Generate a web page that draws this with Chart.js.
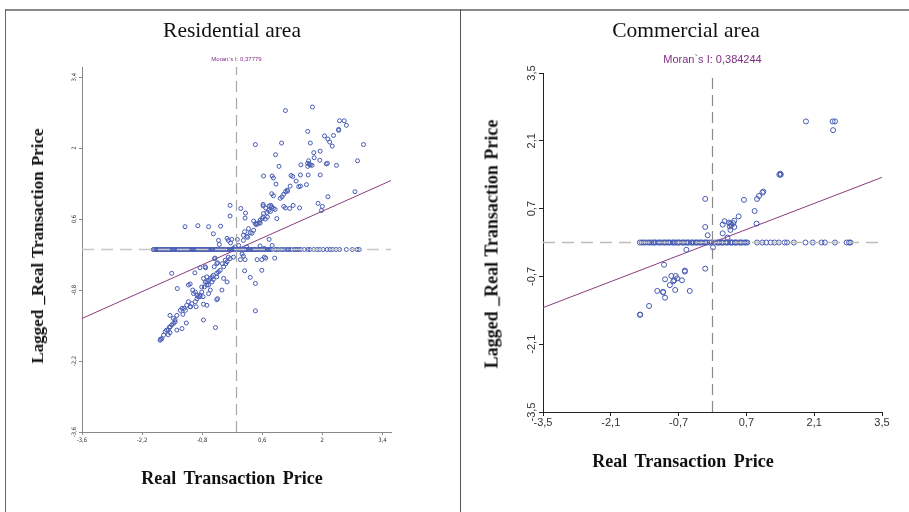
<!DOCTYPE html>
<html>
<head>
<meta charset="utf-8">
<script src="https://cdn.jsdelivr.net/npm/chart.js@4.4.1/dist/chart.umd.min.js"></script>
<style>
  body { margin: 0; background: #fff; width: 909px; height: 512px; overflow: hidden; position: relative; font-family: "Liberation Serif", serif; }
  canvas { position: absolute; top: 0; }
  .line { position: absolute; background: #777; }
  .title { position: absolute; text-align: center; font-size: 21.5px; color: #111; }
  .xlab { position: absolute; text-align: center; font-size: 18px; font-weight: bold; color: #111; word-spacing: 3px; }
  .ylab { position: absolute; font-size: 17px; font-weight: bold; color: #111; white-space: nowrap; word-spacing: 1px;
          transform: translate(-50%, -50%) rotate(-90deg); }
</style>
</head>
<body>
<div class="line" style="left:5px;top:9px;width:904px;height:2px;background:#8a8a8a"></div>
<div class="line" style="left:5px;top:9px;width:1px;height:503px;background:#666"></div>
<div class="line" style="left:460px;top:9px;width:1px;height:503px;background:#555"></div>

<canvas id="res" width="460" height="512" style="left:0"></canvas>
<canvas id="com" width="449" height="512" style="left:460px"></canvas>

<div class="title" style="left:0;width:464px;top:18px">Residential area</div>
<div class="title" style="left:460px;width:452px;top:18px">Commercial area</div>
<div class="xlab" style="left:0;width:464px;top:468px">Real Transaction Price</div>
<div class="xlab" style="left:460px;width:446px;top:451px">Real Transaction Price</div>
<div class="ylab" style="left:38px;top:246px">Lagged _Real Transaction Price</div>
<div class="ylab" style="left:492px;top:244px;font-size:18px">Lagged _Real Transaction Price</div>

<script>
// Residential area
const resMoran = 0.37779;
const resTicks = [-3.6, -2.2, -0.8, 0.6, 2, 3.4];
const resTickLabels = ['-3,6', '-2,2', '-0,8', '0,6', '2', '3,4'];
const resPoints = [
  [1.14,2.74],[1.77,2.81],[2.40,2.54],[2.51,2.54],[2.56,2.45],[2.38,2.37],[2.38,2.35],[1.66,2.33],[2.26,2.25],
  [2.05,2.24],[2.13,2.18],[2.17,2.12],[2.23,2.04],[0.44,2.07],[1.05,2.10],[1.72,2.10],[2.96,2.07],[0.91,1.87],
  [1.80,1.91],[1.95,1.94],[1.81,1.81],[1.94,1.76],[2.82,1.75],[1.68,1.75],[1.66,1.70],[1.72,1.67],[1.76,1.66],
  [1.66,1.64],[1.50,1.67],[1.70,1.68],[2.09,1.69],[2.12,1.70],[2.33,1.66],[0.99,1.64],[0.63,1.45],[0.83,1.45],
  [0.86,1.41],[1.27,1.46],[1.31,1.44],[1.49,1.47],[1.67,1.47],[1.39,1.35],[0.92,1.29],[1.25,1.25],[1.45,1.24],
  [1.49,1.25],[1.63,1.28],[1.18,1.17],[1.14,1.14],[1.10,1.09],[1.19,1.15],[1.06,1.04],[1.02,1.01],[0.82,1.10],
  [0.86,1.06],[1.95,1.47],[1.90,0.91],[2.00,0.85],[1.98,0.77],[2.13,1.04],[2.76,1.14],
  [0.62,0.89],[0.62,0.86],[0.76,0.86],[0.80,0.87],[0.82,0.84],[0.86,0.81],[0.90,0.79],[0.75,0.77],[0.79,0.75],
  [0.71,0.73],[0.68,0.82],[1.10,0.85],[1.14,0.82],[1.24,0.81],[1.32,0.87],[1.47,0.82],[-0.15,0.87],[-0.15,0.66],
  [0.10,0.81],[0.21,0.72],[0.20,0.62],[0.63,0.71],[0.62,0.64],[0.67,0.60],[0.72,0.64],[0.94,0.61],[0.40,0.56],
  [0.53,0.53],[0.46,0.49],[0.44,0.51],[0.55,0.52],[0.28,0.41],[0.32,0.33],[0.19,0.35],[0.24,0.26],[0.36,0.32],
  [0.49,0.51],[0.55,0.58],[0.60,0.61],[0.40,0.38],[0.26,0.24],
  [-1.20,0.45],[-0.90,0.47],[-0.65,0.45],[-0.37,0.46],[-0.54,0.31],[-0.42,0.18],[-0.40,0.10],[-0.22,0.22],
  [-0.19,0.18],[-0.14,0.13],[-0.11,0.20],[0.02,0.20],[0.16,0.28],[0.05,0.08],[-0.03,0.05],[-0.08,0.02],
  [0.24,0.05],[0.16,0.18],[0.76,0.20],[0.83,0.08],[0.65,0.02],[0.55,0.07],
  [0.13,-0.09],[0.16,-0.13],[0.09,-0.20],[0.20,-0.20],[0.48,-0.20],[0.59,-0.20],[0.89,-0.17],[0.65,-0.15],
  [0.19,-0.42],[0.59,-0.41],[0.32,-0.55],[0.44,-0.67],[0.44,-1.21],[0.68,-0.17],
  [-0.07,-0.15],[-0.15,-0.18],[-0.22,-0.24],[-0.25,-0.28],[-0.30,-0.34],[-0.38,-0.41],[-0.46,-0.28],[-0.51,-0.18],
  [-0.52,-0.34],[-0.42,-0.44],[-0.46,-0.47],[-0.54,-0.51],[-0.57,-0.54],[-0.61,-0.57],[-0.65,-0.61],[-0.69,-0.64],
  [-0.54,-0.59],[-0.57,-0.64],[-0.69,-0.70],[-0.75,-0.74],[-0.81,-0.84],[-0.85,-0.90],[-0.89,-0.93],[-0.92,-0.97],
  [-0.96,-1.03],[-1.04,-1.07],[-1.12,-1.03],[-1.16,-1.10],[-1.22,-1.16],[-1.31,-1.20],[-1.39,-1.30],[-1.43,-1.39],
  [-1.47,-1.46],[-1.51,-1.49],[-1.55,-1.53],[-1.59,-1.59],[-1.66,-1.62],[-1.74,-1.76],[-1.78,-1.79],[-1.55,-1.30],
  [-1.51,-0.47],[-1.38,-0.77],[-1.12,-0.70],[-1.08,-0.68],[-0.97,-0.46],[-0.85,-0.36],[-0.73,-0.34],[-0.34,-0.80],
  [-0.46,-0.99],[-0.77,-1.39],[-0.49,-1.54],[-1.27,-1.56],[-1.17,-1.45],[-1.08,-1.13],[-0.94,-1.13],[-0.77,-1.08],
  [-0.69,-1.10],[-0.46,-0.54],[-0.30,-0.57],[-0.22,-0.64],[-0.69,-0.54],[-1.02,-0.80],[-0.92,-0.90],[-0.61,-0.80],
  [-0.65,-0.87],[-0.50,-0.17],[-0.44,-0.26],[-0.33,-0.28],[-0.26,-0.21],[-0.19,-0.15],[-0.72,-0.36],[-0.77,-0.57],
  [-0.73,-0.64],[-0.65,-0.70],[-0.81,-0.74],[-0.96,-0.84],[-1.00,-0.87],[-0.85,-0.93],[-0.78,-0.93],[-1.07,-1.13],
  [-1.19,-1.20],[-1.27,-1.16],[-1.25,-1.28],[-1.47,-1.36],[-1.43,-1.43],[-1.56,-1.53],[-1.63,-1.59],[-1.70,-1.69],
  [-1.77,-1.77],[-1.59,-1.68],[-1.55,-1.64],[-1.39,-1.59],[-0.44,-0.97]
];
// observations whose lagged value is 0
const resZeroX = [
  -1.94,-1.91,-1.88,-1.85,-1.83,-1.79,-1.76,-1.73,-1.71,-1.67,-1.64,-1.61,-1.58,-1.55,-1.53,-1.49,-1.46,-1.43,
  -1.40,-1.37,-1.35,-1.31,-1.28,-1.25,-1.22,-1.19,-1.17,-1.13,-1.10,-1.07,-1.04,-1.01,-0.99,-0.95,-0.92,-0.89,
  -0.86,-0.83,-0.81,-0.77,-0.74,-0.71,-0.68,-0.65,-0.63,-0.59,-0.56,-0.53,-0.50,-0.47,-0.45,-0.41,-0.38,-0.35,
  -0.32,-0.29,-0.27,-0.23,-0.20,-0.17,-0.14,-0.11,-0.09,-0.05,-0.02,0.01,0.04,0.07,0.09,0.13,0.16,0.19,
  0.22,0.25,0.27,0.31,0.34,0.37,0.40,0.43,0.45,0.49,0.52,0.55,0.58,0.61,0.63,0.67,0.70,0.73,0.76,0.79,
  0.82,0.90,0.93,0.97,1.03,1.07,1.12,1.18,1.22,1.27,1.34,1.37,1.41,1.46,1.50,
  1.58,1.66,1.71,1.80,1.88,1.94,2.02,2.11,2.18,2.24,2.32,2.40,2.56,2.70,2.81,2.86
];

// Commercial area
const comMoran = 0.384244;
const comTicks = [-3.5, -2.1, -0.7, 0.7, 2.1, 3.5];
const comTickLabels = ['-3,5', '-2,1', '-0,7', '0,7', '2,1', '3,5'];
const comPoints = [
  [1.93,2.50],[2.48,2.50],[2.53,2.50],[2.49,2.32],[1.38,1.40],[1.41,1.40],[1.40,1.42],[1.03,1.03],[1.05,1.05],
  [0.96,0.96],[0.92,0.90],[0.65,0.88],[-0.15,0.90],[0.87,0.65],[0.91,0.39],[0.54,0.54],[0.45,0.45],[0.43,0.40],
  [0.37,0.39],[0.34,0.41],[0.39,0.36],[0.36,0.33],[0.25,0.44],[0.21,0.37],[0.45,0.32],[0.37,0.26],[0.21,0.19],
  [0.31,0.10],[-0.15,0.32],[-0.10,0.15],[0.01,-0.10],[-0.54,-0.15],[-1.00,-0.46],[-0.15,-0.54],[-0.57,-0.58],
  [-0.57,-0.60],[-0.85,-0.69],[-0.76,-0.69],[-0.73,-0.74],[-0.79,-0.78],[-0.81,-0.80],[-0.63,-0.78],[-0.98,-0.76],
  [-0.88,-0.88],[-0.77,-0.98],[-0.47,-1.00],[-1.14,-1.00],[-1.02,-1.02],[-1.02,-1.03],[-0.98,-1.14],[-1.31,-1.31],
  [-1.49,-1.49],[-1.50,-1.49]
];
const comZeroX = [
  -1.50,-1.46,-1.42,-1.38,-1.33,-1.30,-1.26,-1.22,-1.20,-1.17,-1.12,-1.09,-1.06,-1.01,-0.99,-0.96,-0.92,-0.90,
  -0.87,-0.82,-0.80,-0.77,-0.73,-0.70,-0.68,-0.63,-0.61,-0.58,-0.54,-0.51,-0.49,-0.44,-0.42,-0.39,-0.35,-0.33,
  -0.30,-0.26,-0.24,-0.21,-0.16,-0.14,-0.11,-0.06,-0.02,0.05,0.10,0.12,0.14,0.18,0.20,0.22,0.27,0.30,0.32,
  0.37,0.39,0.41,0.46,0.48,0.51,0.56,0.58,0.61,0.66,0.69,0.72,0.92,1.03,1.11,1.20,1.28,1.37,1.49,1.54,1.68,1.92,
  2.07,2.25,2.32,2.53,2.77,2.82,2.85
];

const pointColor = '#4459b2';
const regColor = '#8c3b7c';

const tickText = {
  id: 'tickText',
  afterDraw(chart, args, o) {
    const { ctx, chartArea, scales: { x, y } } = chart;
    ctx.save();
    ctx.fillStyle = o.color;
    ctx.font = o.font;
    ctx.textAlign = 'center';
    ctx.textBaseline = 'middle';
    o.values.forEach((v, i) => {
      ctx.fillText(o.labels[i], x.getPixelForValue(v), chartArea.bottom + o.gap);
    });
    o.values.forEach((v, i) => {
      ctx.save();
      ctx.translate(chartArea.left - o.gap, y.getPixelForValue(v));
      ctx.rotate(-Math.PI / 2);
      ctx.fillText(o.labels[i], 0, 0);
      ctx.restore();
    });
    ctx.fillStyle = o.noteColor;
    ctx.font = o.noteFont;
    ctx.fillText(o.note, x.getPixelForValue(0), o.noteY);
    ctx.restore();
  }
};

function makeChart(id, cfg) {
  const lim = cfg.lim;
  const axis = (ticks) => ({
    type: 'linear', min: -lim, max: lim,
    afterBuildTicks: s => { s.ticks = ticks.map(v => ({ value: v })); },
    ticks: { display: false },
    grid: { display: true, drawOnChartArea: false, drawTicks: true, tickLength: cfg.tickLen, color: cfg.axisColor },
    border: { display: true, color: cfg.axisColor, width: 1 }
  });
  new Chart(document.getElementById(id), {
    type: 'scatter',
    data: {
      datasets: [
        { data: [{ x: -lim, y: 0 }, { x: lim, y: 0 }], showLine: true, pointRadius: 0,
          borderColor: cfg.hDash, borderWidth: 1.5, borderDash: [12, 7] },
        { data: [{ x: 0, y: -lim }, { x: 0, y: lim }], showLine: true, pointRadius: 0,
          borderColor: cfg.vDash, borderWidth: 1.2, borderDash: [11, 6] },
        { data: cfg.zeroX.map(v => ({ x: v, y: 0 })), pointRadius: cfg.r, pointBorderWidth: 1,
          pointBorderColor: pointColor, pointBackgroundColor: 'rgba(255,255,255,0)' },
        { data: cfg.points.map(p => ({ x: p[0], y: p[1] })), pointRadius: cfg.r, pointBorderWidth: 1,
          pointBorderColor: pointColor, pointBackgroundColor: 'rgba(255,255,255,0)' },
        { data: [{ x: -lim, y: -lim * cfg.moran }, { x: lim, y: lim * cfg.moran }], showLine: true, pointRadius: 0,
          borderColor: regColor, borderWidth: 1 }
      ]
    },
    options: {
      responsive: false, animation: false, devicePixelRatio: 1,
      layout: { padding: cfg.padding },
      scales: { x: axis(cfg.ticks), y: axis(cfg.ticks) },
      plugins: {
        legend: { display: false }, tooltip: { enabled: false },
        tickText: {
          values: cfg.ticks, labels: cfg.labels, font: cfg.tickFont, color: '#333', gap: cfg.gap,
          note: "Moran`s I: " + String(cfg.moran).replace('.', ','), noteFont: cfg.noteFont,
          noteColor: '#7d2e84', noteY: cfg.noteY
        }
      }
    },
    plugins: [tickText]
  });
}

makeChart('res', {
  lim: 3.6, ticks: resTicks, labels: resTickLabels, points: resPoints, zeroX: resZeroX, moran: resMoran,
  padding: { left: 79, top: 67, right: 69, bottom: 77 }, tickLen: 3, axisColor: '#888',
  hDash: '#c8c8c8', vDash: '#a8a8a8', r: 2, gap: 8,
  tickFont: '6px "Liberation Sans Narrow", "DejaVu Sans Condensed", "Liberation Sans", sans-serif',
  noteFont: '6px "Liberation Sans", sans-serif', noteY: 59
});

makeChart('com', {
  lim: 3.5, ticks: comTicks, labels: comTickLabels, points: comPoints, zeroX: comZeroX, moran: comMoran,
  padding: { left: 79, top: 73, right: 27, bottom: 96 }, tickLen: 4, axisColor: '#222',
  hDash: '#bdbdbd', vDash: '#8a8a8a', r: 2.5, gap: 11,
  tickFont: '11px "Liberation Sans", sans-serif',
  noteFont: '11px "Liberation Sans", sans-serif', noteY: 60
});
</script>
</body>
</html>
